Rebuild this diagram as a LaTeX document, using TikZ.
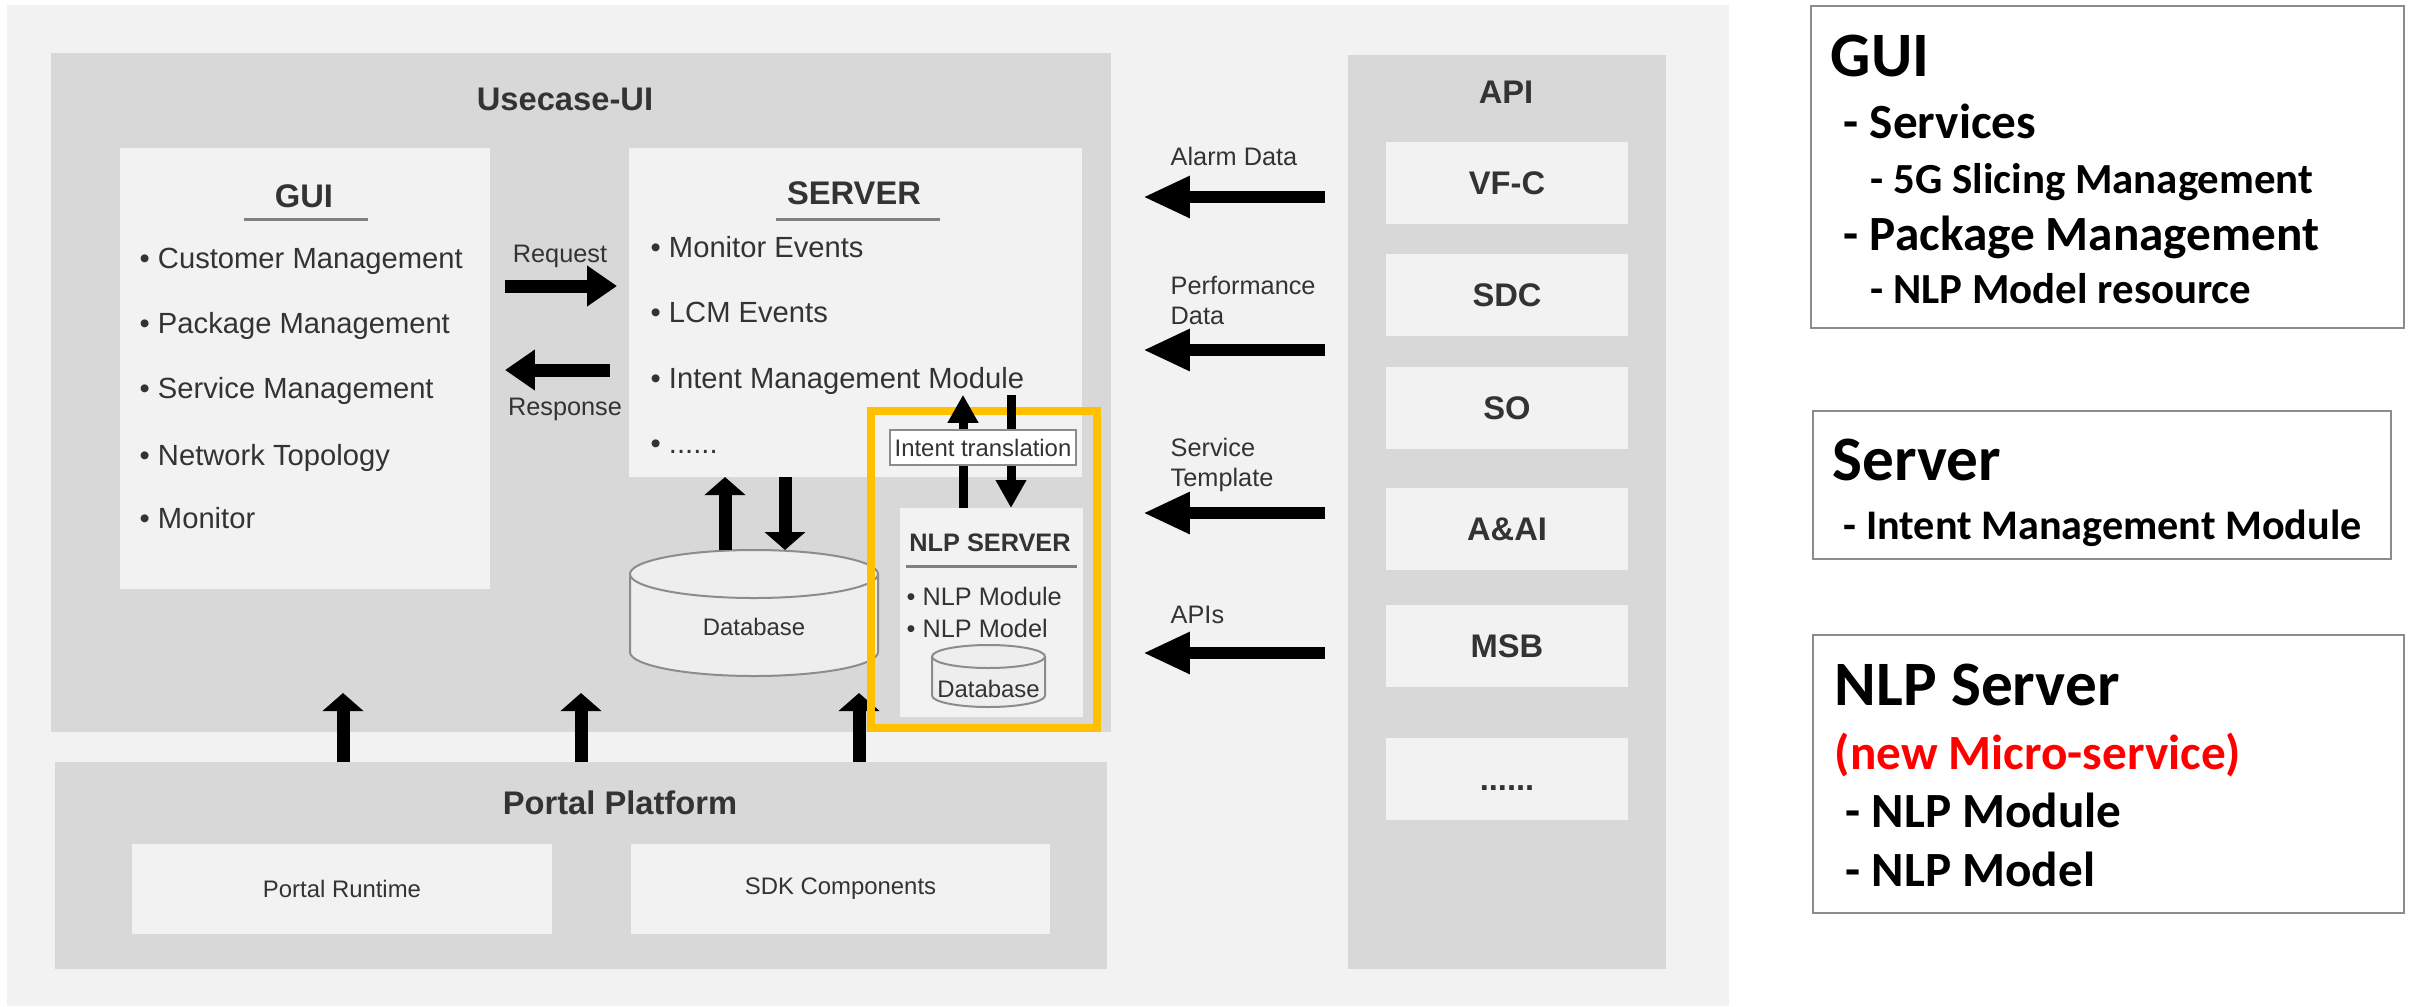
\documentclass[tikz,border=0pt]{standalone}
\usepackage{fontspec}
\setmainfont{Liberation Sans}
\newfontfamily\notefont{Carlito}
\usetikzlibrary{arrows.meta,positioning}

\definecolor{sheet}{HTML}{F2F2F2}
\definecolor{traygray}{HTML}{D8D8D8}
\definecolor{ink}{HTML}{333333}
\definecolor{rulegray}{HTML}{808080}
\definecolor{edgegray}{HTML}{8C8C8C}
\definecolor{amber}{HTML}{FFC000}
\definecolor{dbface}{HTML}{EEEEEE}

\tikzset{
  tray/.style={fill=traygray, inner sep=0pt, outer sep=0pt, anchor=north west},
  card/.style={fill=sheet, inner sep=0pt, outer sep=0pt, anchor=north west},
  headtext/.style={font=\bfseries\fontsize{9.3}{11}\selectfont, text=ink, inner sep=0pt, anchor=base},
  itemtext/.style={font=\fontsize{8.3}{10}\selectfont, text=ink, inner sep=0pt, anchor=base west},
  tagtext/.style={font=\fontsize{7.2}{8.6}\selectfont, text=ink, inner sep=0pt},
  smalltext/.style={font=\fontsize{6.8}{8}\selectfont, text=ink, inner sep=0pt},
  apibox/.style={card, minimum width=24.2mm, minimum height=8.2mm, text height=2.3mm, text depth=0pt,
    font=\bfseries\fontsize{9.3}{11}\selectfont, text=ink},
  notebox/.style={draw=edgegray, line width=0.2mm, inner sep=0pt, outer sep=0pt, anchor=north west},
  notehead/.style={font=\notefont\bfseries\fontsize{18}{20}\selectfont, inner sep=0pt, anchor=base west},
  notemid/.style={font=\notefont\bfseries\fontsize{14}{16}\selectfont, inner sep=0pt, anchor=base west},
  notesub/.style={font=\notefont\bfseries\fontsize{12.2}{14}\selectfont, inner sep=0pt, anchor=base west},
  apiarrow/.style={line width=1.25mm, -{Triangle[length=4.7mm, width=3.9mm]}},
  duplex/.style={line width=1.3mm, -{Triangle[length=3mm, width=3.9mm]}},
  liftarrow/.style={line width=1.3mm, -{Triangle[length=1.8mm, width=4mm]}},
  thinarrow/.style={line width=0.9mm, -{Triangle[length=2.8mm, width=2.9mm]}},
}

\begin{document}
\begin{tikzpicture}[x=0.1mm, y=-0.1mm]
\useasboundingbox (0,0) rectangle (2410,1006);
% backdrop
\fill[sheet] (7,5) rectangle (1729,1006);

% Usecase-UI block
\node[tray, minimum width=106mm, minimum height=67.9mm] (usecase) at (51,53) {};
\node[headtext] (usecasetitle) at (565,110) {Usecase-UI};

% GUI panel
\node[card, minimum width=37mm, minimum height=44.1mm] (gui) at (120,148) {};
\node[headtext] (guititle) at (304,207) {GUI};
\draw[rulegray, line width=0.3mm] (244,219) -- (368,219);
\node[itemtext] (guicust) at (139,268) {• Customer Management};
\node[itemtext] (guipack) at (139,333) {• Package Management};
\node[itemtext] (guiserv) at (139,398) {• Service Management};
\node[itemtext] (guinet) at (139,465) {• Network Topology};
\node[itemtext] (guimon) at (139,528) {• Monitor};

% SERVER panel
\node[card, minimum width=45.3mm, minimum height=32.9mm] (server) at (629,148) {};
\node[headtext] (servertitle) at (854,204) {SERVER};
\draw[rulegray, line width=0.3mm] (776,219) -- (940,219);
\node[itemtext] (srvmon) at (650,257) {• Monitor Events};
\node[itemtext] (srvlcm) at (650,322) {• LCM Events};
\node[itemtext] (srvintent) at (650,388) {• Intent Management Module};
\node[itemtext] (srvmore) at (650,453) {• ......};

% request / response
\node[tagtext, anchor=base] (reqtag) at (560,262) {Request};
\node[tagtext, anchor=base] (resptag) at (565,415) {Response};
\coordinate (reqy) at (0,286);
\coordinate (respy) at (0,370);
\draw[duplex, shorten <=1.5mm, shorten >=1.2mm] (gui.east |- reqy) -- (server.west |- reqy);
\draw[duplex, shorten <=1.9mm, shorten >=1.5mm] (server.west |- respy) -- (gui.east |- respy);

% shared database
\node[inner sep=0pt, outer sep=0pt, minimum width=24.8mm, minimum height=12.6mm, anchor=north west] (bigdb) at (630,550) {};
\fill[dbface] (630,574) rectangle (878,652);
\fill[dbface] (754,652) ellipse [x radius=124, y radius=24];
\draw[edgegray, line width=0.2mm] (630,574) -- (630,652) arc[start angle=180, end angle=0, x radius=124, y radius=24] -- (878,574);
\draw[edgegray, line width=0.2mm, fill=dbface] (754,574) ellipse [x radius=124, y radius=24];
\node[smalltext, anchor=base] (bigdblabel) at (754,635) {Database};
\coordinate (dbup) at ([xshift=-2.9mm]bigdb.north);
\coordinate (dbdown) at ([xshift=3.1mm]bigdb.north);
\draw[liftarrow] (dbup) -- (dbup |- server.south);
\draw[liftarrow] (dbdown |- server.south) -- (dbdown);

% NLP SERVER
\node[card, minimum width=18.3mm, minimum height=20.9mm] (nlp) at (900,508) {};
\node[headtext, font=\bfseries\fontsize{7.2}{8.6}\selectfont] (nlptitle) at (990,551) {NLP SERVER};
\draw[rulegray, line width=0.3mm] (906,566) -- (1077,566);
\node[itemtext, font=\fontsize{7.2}{8.6}\selectfont] (nlpmod) at (906,605) {• NLP Module};
\node[itemtext, font=\fontsize{7.2}{8.6}\selectfont] (nlpmodel) at (906,637) {• NLP Model};
\node[inner sep=0pt, outer sep=0pt, minimum width=11.3mm, minimum height=6.2mm, anchor=north west] (nlpdb) at (932,645) {};
\fill[dbface] (932,656.5) rectangle (1045,695.5);
\fill[dbface] (988.5,695.5) ellipse [x radius=56.5, y radius=11.5];
\draw[edgegray, line width=0.2mm] (932,656.5) -- (932,695.5) arc[start angle=180, end angle=0, x radius=56.5, y radius=11.5] -- (1045,656.5);
\draw[edgegray, line width=0.2mm, fill=dbface] (988.5,656.5) ellipse [x radius=56.5, y radius=11.5];
\node[smalltext, anchor=base] (nlpdblabel) at (988.5,697) {Database};

% Portal Platform
\node[tray, minimum width=105.2mm, minimum height=20.7mm] (portal) at (55,762) {};
\node[headtext] (portaltitle) at (620,814) {Portal Platform};
\node[card, minimum width=42mm, minimum height=9mm, smalltext] (runtime) at (132,844) {Portal Runtime};
\node[card, minimum width=41.9mm, minimum height=9mm, smalltext] (sdk) at (631,844) {SDK Components};
\coordinate (up1) at (343,693);
\coordinate (up2) at (581,693);
\coordinate (up3) at (859,693);
\draw[liftarrow] (portal.north -| up1) -- (up1);
\draw[liftarrow] (portal.north -| up2) -- (up2);
\draw[liftarrow] (portal.north -| up3) -- (up3);

% new micro-service frame
\node[draw=amber, line width=0.8mm, inner sep=0pt, outer sep=0pt, minimum width=22.6mm, minimum height=31.7mm, anchor=north west] (nlpframe) at (871,411) {};
\coordinate (nlpup) at ([xshift=-2.85mm]nlp.north);
\coordinate (nlpdown) at ([xshift=1.95mm]nlp.north);
\draw[thinarrow] (nlpup) -- (nlpup |- srvintent.south);
\draw[thinarrow] (nlpdown |- srvintent.south) -- (nlpdown);
\node[draw=edgegray, fill=white, line width=0.2mm, minimum width=18.6mm, minimum height=3.5mm, smalltext, outer sep=0pt, anchor=north west] (intent) at (890,430) {Intent translation};

% API column
\node[tray, minimum width=31.8mm, minimum height=91.4mm] (api) at (1348,55) {};
\node[headtext] (apititle) at (1506,103) {API};
\node[apibox] (vfc) at (1386,142) {VF-C};
\node[apibox] (sdc) at (1386,254) {SDC};
\node[apibox] (so) at (1386,367) {SO};
\node[apibox] (aai) at (1386,488) {A\&AI};
\node[apibox] (msb) at (1386,605) {MSB};
\node[apibox] (apimore) at (1386,738) {......};

% feeds into Usecase-UI
\coordinate (alarmy) at (0,197);
\coordinate (perfy) at (0,350);
\coordinate (tmply) at (0,513);
\coordinate (apisy) at (0,653);
\draw[apiarrow, shorten <=6.1mm, shorten >=3.2mm] (vfc.west |- alarmy) -- (usecase.east |- alarmy);
\draw[apiarrow, shorten <=6.1mm, shorten >=3.2mm] (vfc.west |- perfy) -- (usecase.east |- perfy);
\draw[apiarrow, shorten <=6.1mm, shorten >=3.2mm] (vfc.west |- tmply) -- (usecase.east |- tmply);
\draw[apiarrow, shorten <=6.1mm, shorten >=3.2mm] (vfc.west |- apisy) -- (usecase.east |- apisy);
\node[tagtext, anchor=base west] (alarmtag) at (1170,165) {Alarm Data};
\node[tagtext, anchor=north west, align=left] (perftag) at (1170,275) {Performance\\Data};
\node[tagtext, anchor=north west, align=left] (tmpltag) at (1170,437) {Service\\Template};
\node[tagtext, anchor=base west] (apistag) at (1170,623) {APIs};

% notes on the right
\node[notebox, minimum width=59.3mm, minimum height=32.2mm] (notegui) at (1811,6) {};
\node[notehead] (guihead) at (1830,76) {GUI};
\node[notemid] (guisvc) at (1843,138) {- Services};
\node[notesub] (guislice) at (1870,193) {- 5G Slicing Management};
\node[notemid] (guipkg) at (1843,250) {- Package Management};
\node[notesub] (guinlp) at (1870,303) {- NLP Model resource};

\node[notebox, minimum width=57.8mm, minimum height=14.8mm] (noteserver) at (1813,411) {};
\node[notehead] (srvhead) at (1832,480) {Server};
\node[notemid, font=\notefont\bfseries\fontsize{12}{14}\selectfont] (srvimm) at (1843,539) {- Intent Management Module};

\node[notebox, minimum width=59.1mm, minimum height=27.8mm] (notenlp) at (1813,635) {};
\node[notehead] (nlphead) at (1834,705) {NLP Server};
\node[notemid, text=red] (nlpnew) at (1834,769) {(new Micro-service)};
\node[notemid] (nlpmodule) at (1845,827) {- NLP Module};
\node[notemid] (nlpmodel2) at (1845,886) {- NLP Model};
\end{tikzpicture}
\end{document}
